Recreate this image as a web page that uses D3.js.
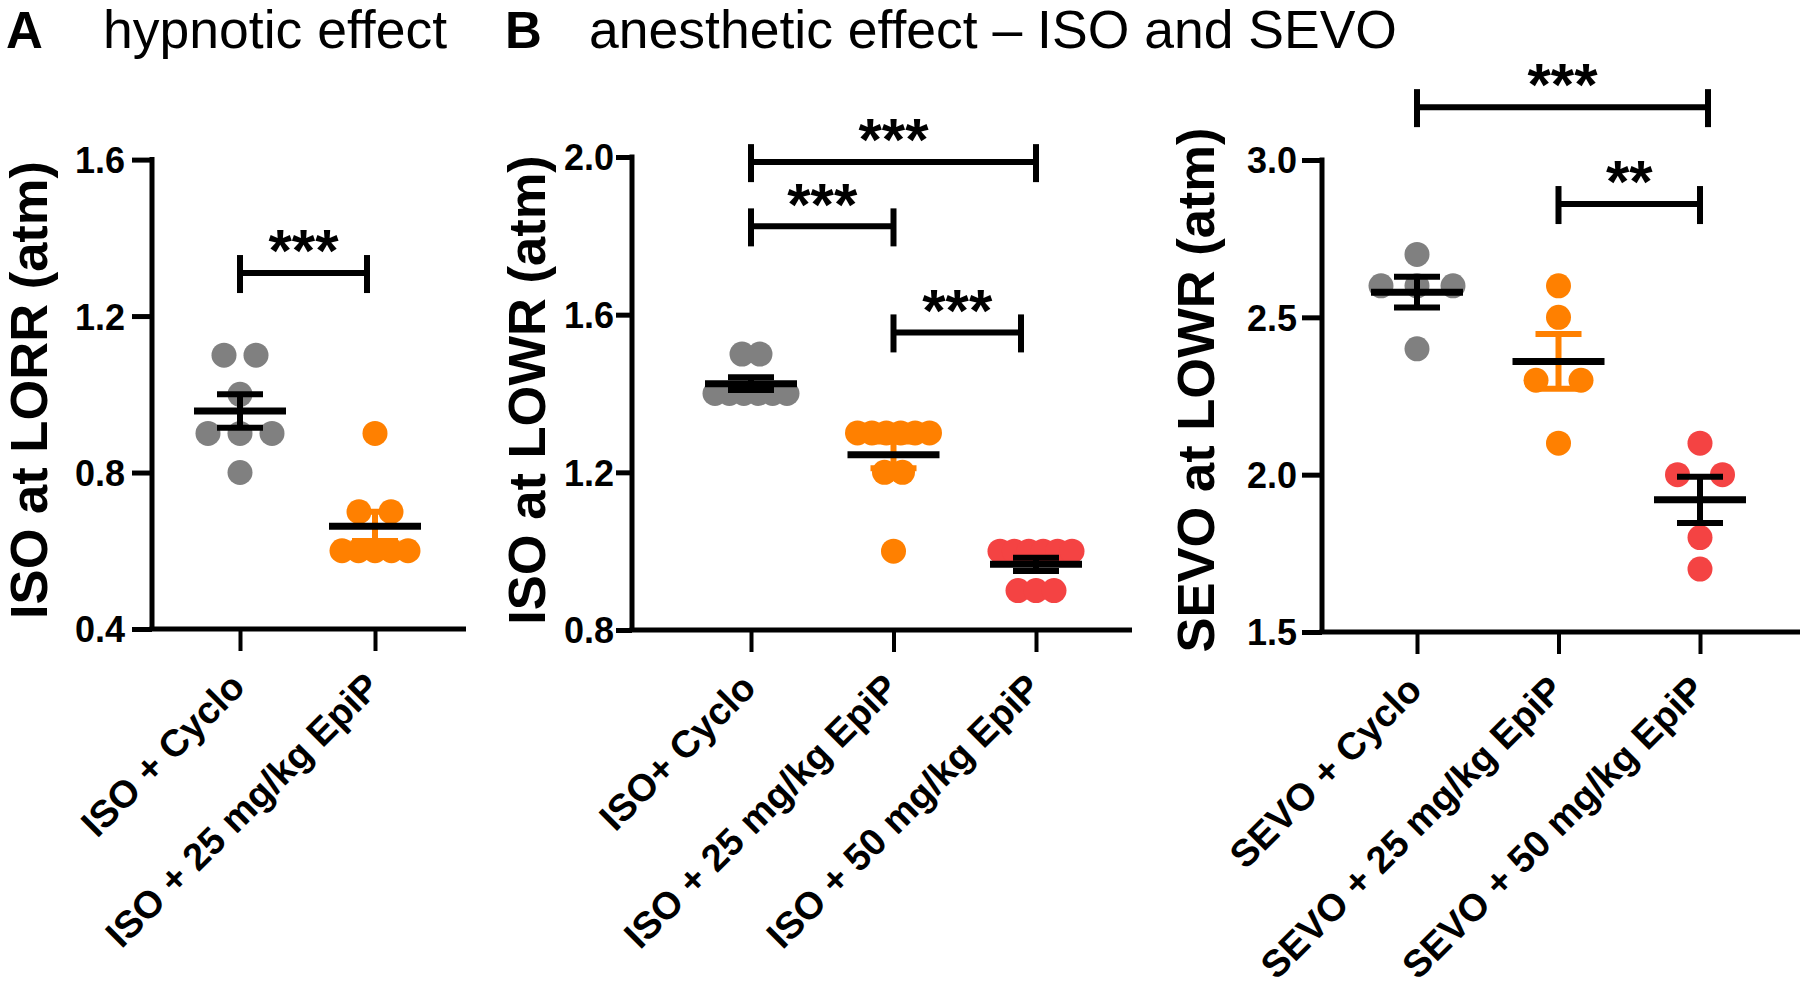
<!DOCTYPE html>
<html>
<head>
<meta charset="utf-8">
<script src="https://cdn.jsdelivr.net/npm/d3@7"></script>
<style>
  html, body { margin: 0; padding: 0; background: #fff; }
  svg { display: block; font-family: "Liberation Sans", Arial, Helvetica, sans-serif; }
</style>
</head>
<body>
<svg id="chart" width="1800" height="989"></svg>
<script>
// ---------------- DATA ----------------
// Panel A: hypnotic effect (ISO at LORR)
const aCategories = ["ISO + Cyclo", "ISO + 25 mg/kg EpiP"];
const aValues = [
  [1.1, 1.1, 1.0, 0.9, 0.9, 0.9, 0.8],
  [0.9, 0.7, 0.7, 0.6, 0.6, 0.6, 0.6, 0.6]
];
const aTicks = [0.4, 0.8, 1.2, 1.6];
const aTitle = "ISO at LORR (atm)";
const aSig = [[0, 1, 1.31, "***"]];

// Panel B: anesthetic effect ISO (ISO at LOWR)
const bCategories = ["ISO+ Cyclo", "ISO + 25 mg/kg EpiP", "ISO + 50 mg/kg EpiP"];
const bValues = [
  [1.5, 1.5, 1.4, 1.4, 1.4, 1.4, 1.4, 1.4],
  [1.3, 1.3, 1.3, 1.3, 1.3, 1.3, 1.2, 1.2, 1.0],
  [1.0, 1.0, 1.0, 1.0, 1.0, 1.0, 0.9, 0.9, 0.9]
];
const bTicks = [0.8, 1.2, 1.6, 2.0];
const bTitle = "ISO at LOWR (atm)";
const bSig = [[0, 2, 1.987, "***"], [0, 1, 1.824, "***"], [1, 2, 1.555, "***"]];

// Panel C: anesthetic effect SEVO (SEVO at LOWR)
const cCategories = ["SEVO + Cyclo", "SEVO + 25 mg/kg EpiP", "SEVO + 50 mg/kg EpiP"];
const cValues = [
  [2.7, 2.6, 2.6, 2.6, 2.4],
  [2.6, 2.5, 2.3, 2.3, 2.1],
  [2.1, 2.0, 2.0, 1.8, 1.7]
];
const cTicks = [1.5, 2.0, 2.5, 3.0];
const cTitle = "SEVO at LOWR (atm)";
const cSig = [[0, 2, 3.168, "***"], [1, 2, 2.86, "**"]];

const headers = [
  ["A", "hypnotic effect"],
  ["B", "anesthetic effect \u2013 ISO and SEVO"]
];

// ---------------- STYLE / LAYOUT ----------------
const groupColors = ["#808080", "#FF8000", "#F44343"];
const svg = d3.select("#chart");

function mean(a) { return d3.mean(a); }
function sem(a) { return d3.deviation(a) / Math.sqrt(a.length); }

function drawPanel(cfg) {
  const g = svg.append("g");
  const y = d3.scaleLinear().domain(cfg.yDomain).range([cfg.yBottom, cfg.yTop]);
  const x = d3.scalePoint().domain(cfg.categories).range(cfg.catRange);

  // y axis
  const yAxis = d3.axisLeft(y).tickValues(cfg.ticks).tickFormat(d3.format(".1f"))
    .tickSize(cfg.tickLen).tickSizeOuter(0);
  const ya = g.append("g").attr("transform", `translate(${cfg.axisX},0)`).call(yAxis);
  ya.select(".domain").attr("stroke", "#000").attr("stroke-width", 5)
    .attr("d", `M0,${y(cfg.yDomain[1]) - 2.5}V${cfg.yBottom}`);
  ya.selectAll(".tick line").attr("stroke", "#000").attr("stroke-width", 5);
  ya.selectAll(".tick text").attr("x", cfg.labelOffset).attr("dy", "0.36em")
    .attr("font-size", 36).attr("font-weight", "bold").attr("fill", "#000")
    .attr("font-family", "'Liberation Sans', Arial, sans-serif");

  // x axis
  const xAxis = d3.axisBottom(x).tickSize(22).tickSizeOuter(0).tickFormat("");
  const xa = g.append("g").attr("transform", `translate(0,${cfg.yBottom})`).call(xAxis);
  xa.select(".domain").attr("stroke", "#000").attr("stroke-width", 5)
    .attr("d", `M${cfg.axisX - 2.5},0H${cfg.axisRight}`);
  xa.selectAll(".tick line").attr("stroke", "#000").attr("stroke-width", 4);

  // category labels
  g.selectAll("text.cat").data(cfg.categories).join("text")
    .attr("class", "cat")
    .attr("transform", d => `translate(${x(d) + 7},${cfg.yBottom + 60}) rotate(-45)`)
    .attr("text-anchor", "end")
    .attr("font-size", 38).attr("font-weight", "bold").attr("fill", "#000")
    .text(d => d);

  // y title
  g.append("text")
    .attr("transform", `translate(${cfg.titleX},390) rotate(-90)`)
    .attr("text-anchor", "middle")
    .attr("font-size", 52.5).attr("font-weight", "bold").attr("fill", "#000")
    .text(cfg.title);

  // dots
  const r = 12.5;
  cfg.values.forEach((vals, gi) => {
    const cx = x(cfg.categories[gi]);
    const groups = d3.groups(vals, v => v);
    const pts = [];
    groups.forEach(([v, arr]) => {
      const n = arr.length;
      const sp = n > 1 ? Math.min(cfg.spacing, cfg.maxSpan / (n - 1)) : 0;
      arr.forEach((vv, i) => pts.push({ v: vv, dx: (i - (n - 1) / 2) * sp }));
    });
    g.append("g").selectAll("circle").data(pts).join("circle")
      .attr("cx", d => cx + d.dx).attr("cy", d => y(d.v)).attr("r", r)
      .attr("fill", groupColors[gi]);

    const m = mean(vals), s = sem(vals);
    const ebColor = gi === 1 ? groupColors[1] : "#000";
    const eb = g.append("g").attr("stroke", ebColor).attr("stroke-width", 6).attr("fill", "none");
    eb.append("line").attr("x1", cx).attr("x2", cx).attr("y1", y(m + s)).attr("y2", y(m - s));
    eb.append("line").attr("x1", cx - 23).attr("x2", cx + 23).attr("y1", y(m + s)).attr("y2", y(m + s));
    eb.append("line").attr("x1", cx - 23).attr("x2", cx + 23).attr("y1", y(m - s)).attr("y2", y(m - s));
    g.append("line").attr("x1", cx - 46).attr("x2", cx + 46).attr("y1", y(m)).attr("y2", y(m))
      .attr("stroke", "#000").attr("stroke-width", 7);
  });

  // significance brackets
  cfg.sig.forEach(([i0, i1, v, label], k) => {
    const nudge = cfg.sigNudge[k];
    const x0 = x(cfg.categories[i0]) + nudge[0], x1 = x(cfg.categories[i1]) + nudge[1], yy = y(v);
    const b = g.append("g").attr("stroke", "#000").attr("fill", "none");
    b.append("line").attr("x1", x0).attr("x2", x1).attr("y1", yy).attr("y2", yy).attr("stroke-width", 6);
    b.append("line").attr("x1", x0).attr("x2", x0).attr("y1", yy - 18).attr("y2", yy + 20).attr("stroke-width", 6);
    b.append("line").attr("x1", x1).attr("x2", x1).attr("y1", yy - 18).attr("y2", yy + 20).attr("stroke-width", 6);
    g.append("text").attr("x", (x0 + x1) / 2).attr("y", yy - 36 + 0.57 * 60)
      .attr("text-anchor", "middle").attr("font-size", 60).attr("font-weight", "bold")
      .attr("fill", "#000").text(label);
  });
}

drawPanel({
  categories: aCategories, values: aValues, ticks: aTicks, title: aTitle, sig: aSig,
  yDomain: [0.4, 1.6], yBottom: 629, yTop: 159.6,
  axisX: 152, axisRight: 466, catRange: [240, 375], titleX: 47,
  tickLen: 20, labelOffset: -27,
  spacing: 32, maxSpan: 66, sigNudge: [[0, -8]]
});
drawPanel({
  categories: bCategories, values: bValues, ticks: bTicks, title: bTitle, sig: bSig,
  yDomain: [0.8, 2.0], yBottom: 630, yTop: 157,
  axisX: 632, axisRight: 1132, catRange: [751, 1036], titleX: 545,
  tickLen: 16, labelOffset: -18,
  spacing: 18, maxSpan: 72, sigNudge: [[0, 0], [0, 0], [0, -15]]
});
drawPanel({
  categories: cCategories, values: cValues, ticks: cTicks, title: cTitle, sig: cSig,
  yDomain: [1.5, 3.0], yBottom: 632, yTop: 160,
  axisX: 1322, axisRight: 1800, catRange: [1417, 1700], titleX: 1214,
  tickLen: 20, labelOffset: -25,
  spacing: 45, maxSpan: 72, sigNudge: [[0, 8], [0, 0]]
});

// headers
const hx = [[6, 103], [505, 589]];
headers.forEach(([letter, text], i) => {
  svg.append("text").attr("x", hx[i][0]).attr("y", 48).attr("font-size", 51)
    .attr("font-weight", "bold").attr("fill", "#000").text(letter);
  svg.append("text").attr("x", hx[i][1]).attr("y", 48).attr("font-size", 53.5)
    .attr("fill", "#000").text(text);
});
</script>
</body>
</html>
